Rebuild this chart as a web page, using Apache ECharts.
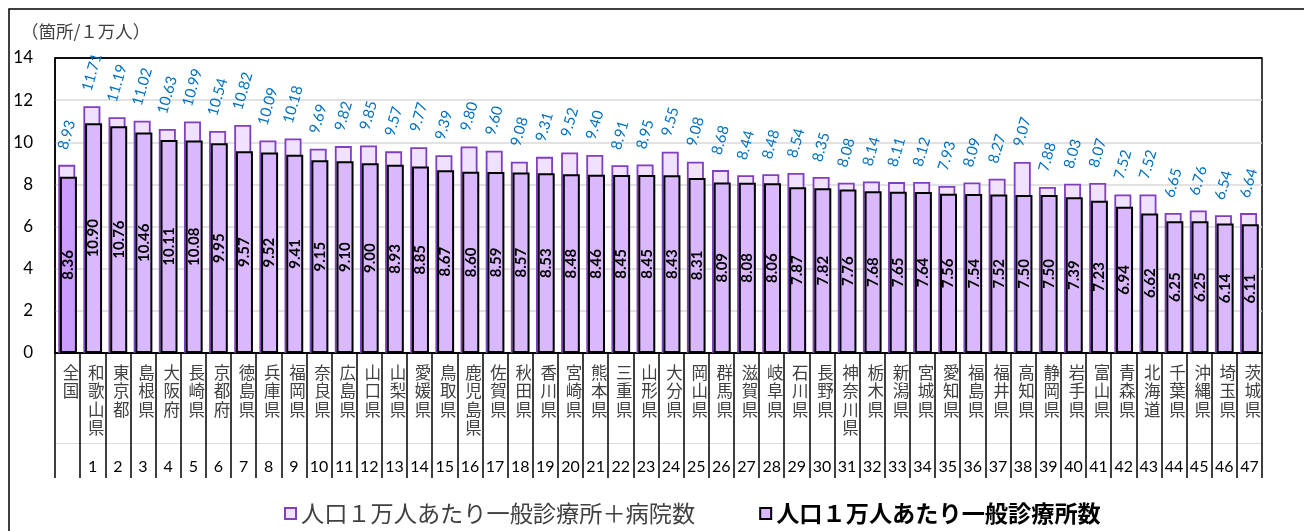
<!DOCTYPE html>
<html>
<head>
<meta charset="utf-8">
<script src="https://cdn.jsdelivr.net/npm/echarts@6/dist/echarts.min.js"></script>
<style>
  html, body { margin: 0; padding: 0; background: #fff; }
  #chart { width: 1304px; height: 531px; }
</style>
</head>
<body>
<div id="chart"></div>
<script>
// 都道府県別 人口1万人あたり診療所数
const categories = ['全国', '和歌山県', '東京都', '島根県', '大阪府', '長崎県', '京都府', '徳島県', '兵庫県', '福岡県',
  '奈良県', '広島県', '山口県', '山梨県', '愛媛県', '鳥取県', '鹿児島県', '佐賀県', '秋田県', '香川県',
  '宮崎県', '熊本県', '三重県', '山形県', '大分県', '岡山県', '群馬県', '滋賀県', '岐阜県', '石川県',
  '長野県', '神奈川県', '栃木県', '新潟県', '宮城県', '愛知県', '福島県', '福井県', '高知県', '静岡県',
  '岩手県', '富山県', '青森県', '北海道', '千葉県', '沖縄県', '埼玉県', '茨城県'];
const ranks = ['', '1', '2', '3', '4', '5', '6', '7', '8', '9', '10', '11', '12', '13', '14', '15', '16', '17', '18', '19',
  '20', '21', '22', '23', '24', '25', '26', '27', '28', '29', '30', '31', '32', '33', '34', '35', '36', '37', '38', '39',
  '40', '41', '42', '43', '44', '45', '46', '47'];
// 一般診療所＋病院数（人口1万人あたり）
const clinicsAndHospitals = [8.93, 11.71, 11.19, 11.02, 10.63, 10.99, 10.54, 10.82, 10.09, 10.18,
  9.69, 9.82, 9.85, 9.57, 9.77, 9.39, 9.80, 9.60, 9.08, 9.31,
  9.52, 9.40, 8.91, 8.95, 9.55, 9.08, 8.68, 8.44, 8.48, 8.54,
  8.35, 8.08, 8.14, 8.11, 8.12, 7.93, 8.09, 8.27, 9.07, 7.88,
  8.03, 8.07, 7.52, 7.52, 6.65, 6.76, 6.54, 6.64];
// 一般診療所数（人口1万人あたり）
const clinics = [8.36, 10.90, 10.76, 10.46, 10.11, 10.08, 9.95, 9.57, 9.52, 9.41,
  9.15, 9.10, 9.00, 8.93, 8.85, 8.67, 8.60, 8.59, 8.57, 8.53,
  8.48, 8.46, 8.45, 8.45, 8.43, 8.31, 8.09, 8.08, 8.06, 7.87,
  7.82, 7.76, 7.68, 7.65, 7.64, 7.56, 7.54, 7.52, 7.50, 7.50,
  7.39, 7.23, 6.94, 6.62, 6.25, 6.25, 6.14, 6.11];
const yTicks = [0, 2, 4, 6, 8, 10, 12, 14];

const seriesNames = ['人口１万人あたり一般診療所＋病院数', '人口１万人あたり一般診療所数'];
const numFont = 'Lato, "Noto Sans", sans-serif';
const jpFont = '"Noto Sans CJK JP", sans-serif';

const chart = echarts.init(document.getElementById('chart'), null, { renderer: 'canvas' });

const totalData = clinicsAndHospitals.map(v => ({
  value: v,
  label: { distance: v.toFixed(2).length > 4 ? 34 : 30 }
}));
const clinicData = clinics.map((v, i) => i === 0
  ? { value: v, itemStyle: { color: '#C99CFF' } }
  : v);

chart.setOption({
  animation: false,
  backgroundColor: '#fff',
  graphic: [
    { type: 'rect', shape: { x: 9, y: 9, width: 1400, height: 600 },
      style: { fill: 'none', stroke: '#000', lineWidth: 1.5 }, silent: true },
    { type: 'text', left: 21, top: 23,
      style: { text: '（箇所/１万人）', font: '17.5px ' + jpFont, fill: '#404040' } }
  ],
  grid: {
    left: 55, right: 42, top: 58, bottom: 178,
    show: true, borderColor: '#000', borderWidth: 1.5, backgroundColor: 'transparent'
  },
  legend: {
    bottom: 1, left: 279, itemGap: 64, itemWidth: 11, itemHeight: 11,
    icon: 'rect',
    textStyle: { fontFamily: jpFont, fontSize: 23.2, color: '#404040' },
    data: [
      { name: seriesNames[0] },
      { name: seriesNames[1], textStyle: { fontWeight: 'bold', color: '#000' } }
    ]
  },
  xAxis: [
    {
      type: 'category', data: categories, gridIndex: 0,
      axisLine: { lineStyle: { color: '#000', width: 2 } },
      axisTick: { show: true, interval: 0, length: 125, lineStyle: { color: '#000', width: 1.5 } },
      axisLabel: {
        interval: 0, margin: 10, color: '#404040', fontFamily: jpFont, fontSize: 16.5,
        lineHeight: 18.5, verticalAlign: 'top', padding: [0, 0, 0, 7],
        formatter: name => name.split('').join('\n')
      }
    },
    {
      type: 'category', data: ranks, gridIndex: 0, position: 'bottom', offset: 90,
      axisLine: { show: true, lineStyle: { color: '#DDDDDD', width: 1 } },
      axisTick: { show: false },
      axisLabel: { interval: 0, margin: 16, color: '#000', fontFamily: numFont, fontSize: 16 }
    }
  ],
  yAxis: {
    type: 'value', min: 0, max: 14, interval: 2,
    axisLine: { show: true, lineStyle: { color: '#000', width: 1.5 } },
    axisTick: { show: false },
    axisLabel: {
      margin: 22, color: '#000', fontFamily: numFont, fontSize: 17,
      formatter: v => yTicks.includes(v) ? String(v) : ''
    },
    splitLine: {
      lineStyle: { color: ['#D9D9D9', '#D9D9D9', '#D9D9D9', '#D9D9D9', '#D9D9D9', '#D9D9D9', '#D9D9D9', '#000'], width: 1.5 }
    }
  },
  series: [
    {
      name: seriesNames[0], type: 'bar', data: totalData,
      barWidth: 17, barGap: '-90%',
      itemStyle: { color: '#F0E1FF', borderColor: '#7F3FBF', borderWidth: 1.8 },
      label: {
        show: true, position: 'top', rotate: 74, align: 'center', verticalAlign: 'middle',
        color: '#0070C0', fontFamily: numFont, fontSize: 15,
        formatter: p => p.value.toFixed(2)
      }
    },
    {
      name: seriesNames[1], type: 'bar', data: clinicData,
      barWidth: 17,
      itemStyle: { color: '#DAB8FD', borderColor: '#000', borderWidth: 2 },
      label: {
        show: true, position: 'inside', rotate: 90,
        color: '#000', fontFamily: numFont, fontSize: 15, fontWeight: 'bold',
        formatter: p => p.value.toFixed(2)
      }
    }
  ]
});
</script>
</body>
</html>
